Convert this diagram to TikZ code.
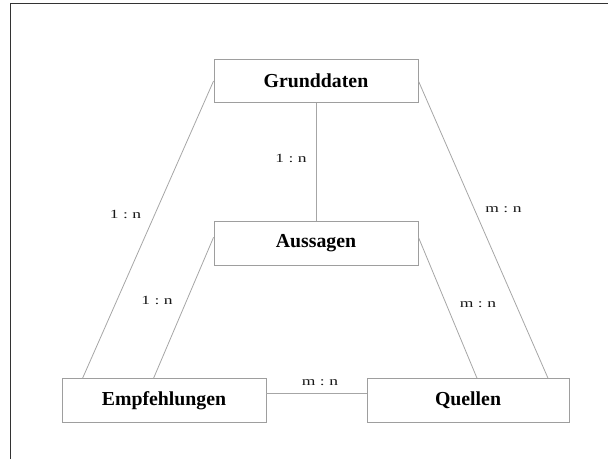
\documentclass[tikz,border=0pt]{standalone}
\usepackage{fontspec}
\setmainfont{Liberation Serif}
\usetikzlibrary{calc}
\tikzset{
  entity/.style={draw=black!38, line width=0.9pt, fill=white, minimum width=204pt,
    minimum height=43.5pt, inner sep=0pt,
    font=\fontsize{19.8}{23}\selectfont\bfseries, text=black},
  link/.style={draw=black!35, line width=0.8pt},
  card/.style={inner sep=0pt, text=black!90, font=\fontsize{12.5}{14}\selectfont},
  frameline/.style={draw=black!80, line width=1.8pt}
}
\newcommand{\cardtext}[2]{\scalebox{1.4}[1]{#1\hspace{3.2pt}:\hspace{3.2pt}#2}}
\begin{document}
\begin{tikzpicture}[x=1pt, y=-1pt]
  \useasboundingbox (0,0) rectangle (608,459);
  % outer frame (top and left edges)
  \coordinate (fl) at (10.5,459);
  \coordinate (fc) at (10.5,3.5);
  \coordinate (fr) at (608,3.5);
  \draw[frameline] (fl) -- (fc) -- (fr);

  % entities
  \node[entity] (G) at (316,81) {Grunddaten};
  \node[entity] (A) at (316,243.5) {Aussagen};
  \node[entity] (E) at (164,400.5) {Empfehlungen};
  \node[entity, minimum width=202pt] (Q) at (468,400.5) {Quellen};

  % relations
  \draw[link] (G.south) -- (A.north);
  \draw[link] (G.west) -- ($(E.north west)+(21,0)$);
  \draw[link] ($(A.north west)+(0,16)$) -- ($(E.north west)+(92,0)$);
  \draw[link] (G.east) -- ($(Q.north west)+(181.5,0)$);
  \draw[link] ($(A.north east)+(0,16)$) -- ($(Q.north west)+(110.5,0)$);
  \draw[link] ($(E.north east)+(0,15)$) -- ($(Q.north west)+(0,15)$);

  % cardinalities
  \node[card] (c1) at (291,158) {\cardtext{1}{n}};
  \node[card] (c2) at (125.5,214) {\cardtext{1}{n}};
  \node[card] (c3) at (503.5,210) {\cardtext{m}{n}};
  \node[card] (c4) at (157,300) {\cardtext{1}{n}};
  \node[card] (c5) at (478,305) {\cardtext{m}{n}};
  \node[card] (c6) at (320,383) {\cardtext{m}{n}};
\end{tikzpicture}
\end{document}
